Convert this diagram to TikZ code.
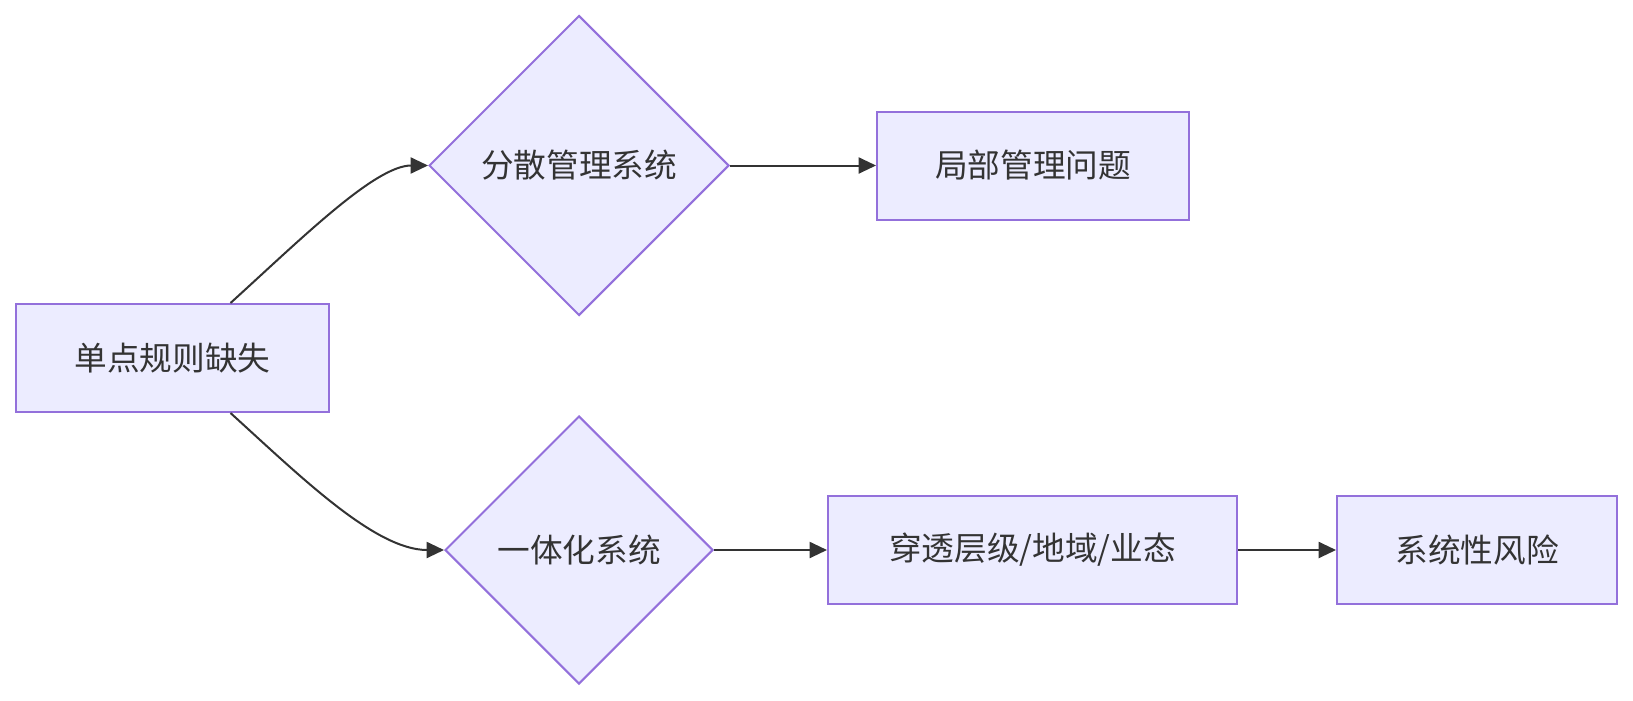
\documentclass[tikz,border=0pt]{standalone}
\usepackage{fontspec}
\setmainfont{Noto Sans CJK SC}
\usetikzlibrary{shapes.geometric,arrows.meta}
\definecolor{nodefill}{HTML}{ECECFF}
\definecolor{nodeline}{HTML}{9370DB}
\definecolor{edgecol}{HTML}{333333}
\definecolor{txt}{HTML}{333333}
\tikzset{
  boxnode/.style={draw=nodeline, fill=nodefill, line width=1.5pt, rectangle, minimum height=81pt, inner sep=0pt, text=txt, font=\fontsize{24.5}{29}\selectfont},
  decnode/.style={draw=nodeline, fill=nodefill, line width=1.5pt, diamond, aspect=1, inner sep=0pt, text=txt, font=\fontsize{24.5}{29}\selectfont},
  edge/.style={draw=edgecol, line width=1.5pt, -{Triangle[length=13pt,width=12pt]}}
}
\begin{document}
\begin{tikzpicture}[x=0.75pt,y=-0.75pt]
\useasboundingbox (0,0) rectangle (1633,700);
\node[boxnode, minimum width=234.75pt] (A) at (172.5,358) {单点规则缺失};
\node[decnode, minimum width=225pt, minimum height=225pt] (B) at (579,165.5) {分散管理系统};
\node[boxnode, minimum width=234pt] (C) at (1033,165.5) {局部管理问题};
\node[decnode, minimum width=201pt, minimum height=201pt] (D) at (579,550) {一体化系统};
\node[boxnode, minimum width=306.75pt] (E) at (1032.5,550) {穿透层级/地域/业态};
\node[boxnode, minimum width=210pt] (F) at (1477,550) {系统性风险};
\coordinate (a1) at ([xshift=43.5pt]A.north);
\coordinate (a2) at ([xshift=43.5pt]A.south);
\draw[edge] (a1) .. controls (300,240) and (375,165.5) .. (B.west);
\draw[edge] (a2) .. controls (300,476) and (375,550) .. (D.west);
\draw[edge] (B.east) -- (C.west);
\draw[edge] (D.east) -- (E.west);
\draw[edge] (E.east) -- (F.west);
\end{tikzpicture}
\end{document}
